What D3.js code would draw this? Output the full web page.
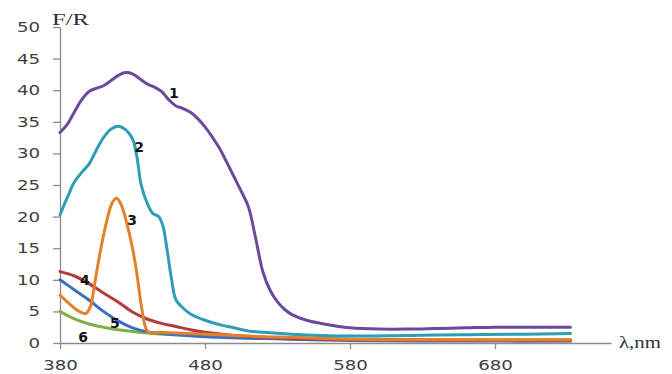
<!DOCTYPE html>
<html>
<head>
<meta charset="utf-8">
<script src="https://cdn.jsdelivr.net/npm/d3@7"></script>
<style>
  body { margin: 0; background: #fff; }
  svg { display: block; }
</style>
</head>
<body>
<div id="chart"></div>
<script>
// wavelength (nm) and F/R values per curve
const curve1 = [[380,33.3],[385,34.6],[390,36.6],[395,38.5],[400,39.8],[405,40.3],[410,40.7],[415,41.5],[420,42.3],[425,42.8],[430,42.6],[435,41.8],[440,41.0],[445,40.5],[450,39.8],[455,38.5],[460,37.5],[465,37.1],[470,36.5],[475,35.5],[480,34.2],[485,32.6],[490,30.8],[495,28.6],[500,26.3],[505,24.0],[510,21.5],[515,16.5],[520,11.2],[525,8.3],[530,6.5],[535,5.3],[540,4.5],[550,3.6],[560,3.1],[570,2.7],[580,2.4],[600,2.2],[620,2.2],[640,2.3],[660,2.4],[680,2.5],[700,2.5],[732,2.5]];
const curve2 = [[380,20.3],[385,23.0],[390,25.5],[395,27.0],[400,28.3],[405,30.5],[410,32.5],[415,33.8],[420,34.3],[425,33.8],[430,32.3],[433,29.5],[436,25.0],[440,22.2],[444,20.5],[448,20.0],[451,18.5],[454,14.5],[457,10.0],[460,6.8],[465,5.5],[470,4.6],[480,3.6],[490,2.9],[500,2.4],[510,1.9],[520,1.7],[540,1.4],[560,1.2],[580,1.1],[620,1.2],[660,1.3],[700,1.4],[732,1.5]];
const curve3 = [[380,7.6],[385,6.5],[390,5.5],[395,4.8],[398,4.7],[401,5.8],[404,9.5],[407,13.5],[410,17.0],[413,20.0],[416,22.2],[419,22.9],[422,22.0],[426,19.0],[430,15.0],[433,11.0],[436,6.0],[439,2.5],[441,1.7],[450,1.7],[460,1.6],[480,1.4],[500,1.2],[520,1.0],[540,0.9],[580,0.6],[640,0.5],[732,0.5]];
const curve4 = [[380,11.3],[390,10.6],[400,9.4],[410,7.9],[420,6.5],[430,4.9],[440,3.8],[450,3.1],[460,2.6],[470,2.1],[480,1.7],[500,1.2],[520,0.9],[560,0.6],[600,0.5],[680,0.4],[732,0.4]];
const curve5 = [[380,10.0],[385,9.2],[390,8.4],[395,7.6],[400,6.8],[410,5.0],[420,3.5],[430,2.4],[440,1.8],[460,1.3],[480,1.0],[520,0.7],[580,0.4],[680,0.3],[732,0.3]];
const curve6 = [[380,5.0],[390,3.8],[400,3.0],[410,2.5],[420,2.1],[440,1.6],[460,1.3],[480,1.1],[520,0.8],[580,0.6],[680,0.5],[732,0.5]];

const curveNames = ["1", "2", "3", "4", "5", "6"];
// where each number label sits, in data units (nm, F/R)
const labelAnchors = [[458.6,39.6],[434.5,31.0],[429.7,19.5],[397.2,10.0],[417.9,3.2],[395.9,0.95]];

const yTicks = [0, 5, 10, 15, 20, 25, 30, 35, 40, 45, 50];
const xTicks = [380, 480, 580, 680];

const colors = ["#6b4a9d", "#2e9db6", "#e5812a", "#b13c3b", "#3f6ebf", "#80b043"];

function drawChart() {
    const width = 672;
    const height = 374;

    const svg = d3.select("#chart").append("svg")
        .attr("width", width)
        .attr("height", height);

    const x = d3.scaleLinear().domain([380, 760]).range([60, 611]);
    const y = d3.scaleLinear().domain([0, 50]).range([343, 27]);

    // text in the picture is drawn stretched sideways
    const stretch = 1.3;

    // y axis
    const yAxis = svg.append("g")
        .attr("transform", "translate(60,0)")
        .call(d3.axisLeft(y).tickValues(yTicks).tickSize(7).tickSizeOuter(0).tickPadding(0));
    yAxis.select(".domain").attr("stroke", "#8c8c8c").attr("stroke-width", 1.3);
    yAxis.selectAll(".tick line").attr("stroke", "#8c8c8c").attr("stroke-width", 1.3);
    yAxis.selectAll(".tick text")
        .attr("x", -20 / stretch)
        .attr("transform", `scale(${stretch},1)`)
        .attr("fill", "#404040")
        .style("font-family", "DejaVu Sans, sans-serif")
        .style("font-size", "14px");

    // x axis
    const xAxis = svg.append("g")
        .attr("transform", "translate(0,343)")
        .call(d3.axisBottom(x).tickValues(xTicks).tickSize(6).tickSizeOuter(0).tickPadding(0));
    xAxis.select(".domain").attr("stroke", "#8c8c8c").attr("stroke-width", 1.3);
    xAxis.selectAll(".tick line").attr("stroke", "#8c8c8c").attr("stroke-width", 1.3);
    xAxis.selectAll(".tick text")
        .attr("y", 17)
        .attr("transform", `scale(${stretch},1)`)
        .attr("fill", "#404040")
        .style("font-family", "DejaVu Sans, sans-serif")
        .style("font-size", "14px");

    // axis titles
    svg.append("text")
        .attr("transform", `translate(52,25) scale(1.45,1)`)
        .text("F/R")
        .attr("fill", "#303030")
        .style("font-family", "Liberation Serif, serif")
        .style("font-size", "17px");

    svg.append("text")
        .attr("transform", `translate(619,348) scale(1.3,1)`)
        .text("λ,nm")
        .attr("fill", "#303030")
        .style("font-family", "Liberation Serif, serif")
        .style("font-size", "16px");

    // curves
    const line = d3.line()
        .x(d => x(d[0]))
        .y(d => y(d[1]))
        .curve(d3.curveCatmullRom.alpha(0.5));

    const series = [curve1, curve2, curve3, curve4, curve5, curve6];
    const drawOrder = [5, 4, 3, 2, 1, 0];

    svg.append("g")
        .selectAll("path")
        .data(drawOrder)
        .enter()
        .append("path")
        .attr("d", i => line(series[i]))
        .attr("fill", "none")
        .attr("stroke", i => colors[i])
        .attr("stroke-width", 3)
        .attr("stroke-linejoin", "round")
        .attr("stroke-linecap", "round");

    // number labels
    svg.append("g")
        .selectAll("text")
        .data(curveNames)
        .enter()
        .append("text")
        .attr("x", (d, i) => x(labelAnchors[i][0]))
        .attr("y", (d, i) => y(labelAnchors[i][1]))
        .attr("dy", "0.36em")
        .attr("text-anchor", "middle")
        .text(d => d)
        .attr("fill", "#111")
        .style("font-family", "DejaVu Sans, sans-serif")
        .style("font-weight", "bold")
        .style("font-size", "14px");
}

drawChart();
</script>
</body>
</html>
